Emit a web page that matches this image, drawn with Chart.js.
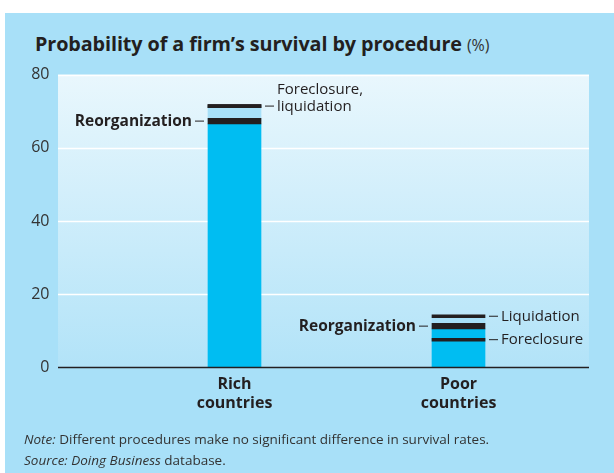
<!DOCTYPE html>
<html>
<head>
<meta charset="utf-8">
<script src="https://cdn.jsdelivr.net/npm/chart.js@4.4.1/dist/chart.umd.min.js"></script>
<style>
  body { margin: 0; background: #fff; width: 614px; height: 473px; overflow: hidden; position: relative; font-family: "Open Sans", sans-serif; color: #231f20; }
  #panel { position: absolute; left: 5px; top: 13px; right: 0; bottom: 0; background: #a8e0f8; }
  #title { position: absolute; left: 35px; top: 30px; font-size: 19.8px; font-weight: bold; white-space: nowrap; letter-spacing: -0.1px; }
  #title span { font-weight: normal; font-size: 16px; color: #333; }
  #notes { position: absolute; left: 24px; top: 429px; font-size: 13.5px; line-height: 21px; color: #333; white-space: nowrap; }
  canvas { position: absolute; left: 0; top: 0; }
</style>
</head>
<body>
<div id="panel"></div>
<div id="title">Probability of a firm’s survival by procedure <span>(%)</span></div>
<canvas id="chart" width="614" height="473"></canvas>
<div id="notes"><i>Note:</i> Different procedures make no significant difference in survival rates.<br><i>Source: Doing Business</i> database.</div>
<script>
// survival rates (%)
const categories = [["Rich", "countries"], ["Poor", "countries"]];
const reorganization = [67.3, 11.3];
const foreclosure = [71.4, 7.6];
const liquidation = [71.4, 14.0];
const yTicks = [0, 20, 40, 60, 80];

const THICK = 1.5;  // height of the reorganization band, in %
const THIN = 0.8;   // height of the other marker lines
const FRAME_L = 58, FRAME_R = 589;
const BAR_W = 53;
const INK = "#231f20";

const topVal = foreclosure.map((f, i) => Math.max(f, liquidation[i], reorganization[i]));

// plot background, grid lines, zero line and the side labels
const framePlugin = {
  id: "frame",
  beforeDatasetsDraw(chart) {
    const ctx = chart.ctx, y = chart.scales.y;
    const g = ctx.createLinearGradient(0, y.top, 0, y.bottom);
    g.addColorStop(0, "#e9f7fd");
    g.addColorStop(1, "#b2e3f8");
    ctx.save();
    ctx.fillStyle = g;
    ctx.fillRect(FRAME_L, y.top, FRAME_R - FRAME_L, y.bottom - y.top);
    ctx.strokeStyle = "#ffffff";
    ctx.lineWidth = 1.5;
    yTicks.forEach(v => {
      if (v === 0) return;
      const py = Math.round(y.getPixelForValue(v)) + 0.5;
      ctx.beginPath(); ctx.moveTo(FRAME_L, py); ctx.lineTo(FRAME_R, py); ctx.stroke();
    });
    ctx.restore();
  },
  afterDatasetsDraw(chart) {
    const ctx = chart.ctx, x = chart.scales.x, y = chart.scales.y;
    ctx.save();
    ctx.strokeStyle = INK;
    ctx.lineWidth = 1.5;
    const y0 = y.getPixelForValue(0);
    ctx.beginPath(); ctx.moveTo(FRAME_L, y0); ctx.lineTo(FRAME_R, y0); ctx.stroke();

    ctx.fillStyle = INK;
    ctx.lineWidth = 1;
    ctx.textBaseline = "middle";
    categories.forEach((c, i) => {
      const xc = x.getPixelForValue(i);
      const left = xc - BAR_W / 2, right = xc + BAR_W / 2;

      // reorganization on the left
      let py = y.getPixelForValue(reorganization[i]);
      ctx.beginPath(); ctx.moveTo(left - 13, py); ctx.lineTo(left - 4, py); ctx.stroke();
      ctx.font = "bold 15.5px 'Open Sans'";
      ctx.textAlign = "right";
      ctx.fillText("Reorganization", left - 16, py);

      // foreclosure / liquidation on the right
      ctx.font = "15px 'Open Sans'";
      ctx.textAlign = "left";
      if (foreclosure[i] === liquidation[i]) {
        py = y.getPixelForValue(foreclosure[i]);
        ctx.beginPath(); ctx.moveTo(right + 4, py); ctx.lineTo(right + 13, py); ctx.stroke();
        ctx.fillText("Foreclosure,", right + 16, py - 16);
        ctx.fillText("liquidation", right + 16, py + 1);
      } else {
        [["Liquidation", liquidation[i]], ["Foreclosure", foreclosure[i]]].forEach(([t, v]) => {
          const p = y.getPixelForValue(v);
          ctx.beginPath(); ctx.moveTo(right + 4, p); ctx.lineTo(right + 13, p); ctx.stroke();
          ctx.fillText(t, right + 16, p);
        });
      }
    });
    ctx.restore();
  }
};

const barBase = { grouped: false, barThickness: BAR_W, borderWidth: 0, borderSkipped: false };

new Chart(document.getElementById("chart"), {
  type: "bar",
  data: {
    labels: categories,
    datasets: [
      { ...barBase, order: 5, label: "Survival", data: reorganization.map(r => [0, r - THICK / 2]), backgroundColor: "#00bdf2" },
      { ...barBase, order: 4, label: "Range", data: reorganization.map((r, i) => [r, topVal[i]]), backgroundColor: "#a8e0f8" },
      { ...barBase, order: 3, label: "Foreclosure", data: foreclosure.map(v => [v - THIN / 2, v + THIN / 2]), backgroundColor: INK },
      { ...barBase, order: 2, label: "Liquidation", data: liquidation.map(v => [v - THIN / 2, v + THIN / 2]), backgroundColor: INK },
      { ...barBase, order: 1, label: "Reorganization", data: reorganization.map(v => [v - THICK / 2, v + THICK / 2]), backgroundColor: INK }
    ]
  },
  options: {
    responsive: false,
    animation: false,
    devicePixelRatio: 1,
    layout: { padding: { left: 0, right: 43.5, top: 74.5, bottom: 55.5 } },
    plugins: { legend: { display: false }, tooltip: { enabled: false } },
    scales: {
      x: {
        grid: { display: false },
        border: { display: false },
        ticks: { color: INK, font: { family: "Open Sans", size: 16, weight: "bold", lineHeight: 1.15 }, padding: 0 },
        afterFit: s => { s.height = 50; }
      },
      y: {
        min: 0, max: 80,
        afterBuildTicks: s => { s.ticks = yTicks.map(v => ({ value: v })); },
        grid: { display: false },
        border: { display: false },
        ticks: { color: "#333", font: { family: "Open Sans", size: 16 }, padding: 65 },
        afterFit: s => { s.width = 122.5; }
      }
    }
  },
  plugins: [framePlugin]
});
</script>
</body>
</html>
